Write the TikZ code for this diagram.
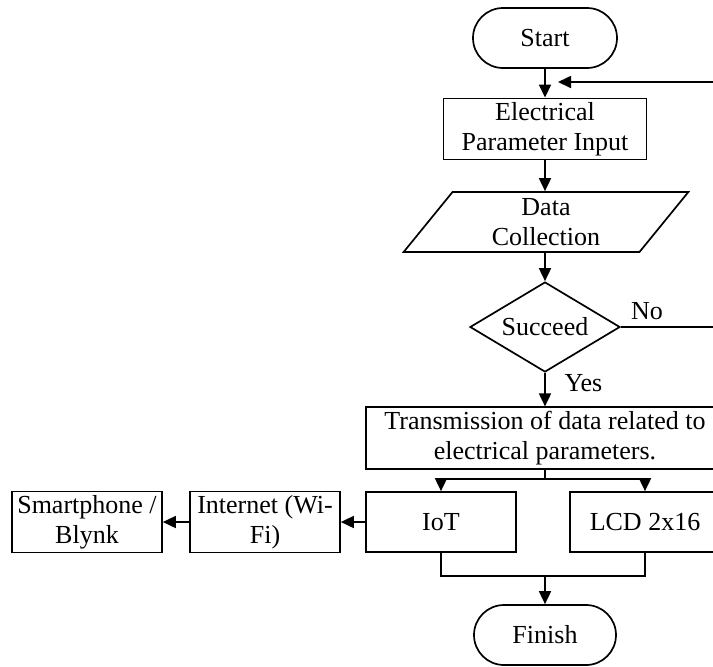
\documentclass[tikz,border=0pt]{standalone}
\usepackage{fontspec}
\setmainfont{Liberation Serif}
\usetikzlibrary{shapes.geometric}
\usetikzlibrary{shapes.misc}
\usetikzlibrary{positioning}
\usetikzlibrary{arrows.meta}
\tikzset{every node/.style={font=\fontsize{13}{14.8}\selectfont, align=center},
         base/.style={draw, line width=0.85pt, inner sep=2pt},
         terminal/.style={base, rounded rectangle, minimum width=76pt, minimum height=30pt},
         process/.style={base, rectangle, minimum width=75pt, minimum height=30pt},
         io/.style={base, trapezium, trapezium left angle=61, trapezium right angle=119,
                    trapezium stretches=true, minimum width=143.5pt, minimum height=30pt},
         decision/.style={base, diamond, aspect=1.67, minimum width=75pt, minimum height=45pt, inner sep=0pt},
         line/.style={line width=0.85pt},
         arrow/.style={line, -{Triangle[length=6.5pt,width=6pt]}},
         }

\begin{document}
\begin{tikzpicture}[x=0.5pt, y=-0.5pt]
\clip (0,0) rectangle (713,666);

% main column
\node[terminal] (start) at (545,38) {Start};
\node[process, minimum width=101.5pt] (input) at (545,129) {Electrical\\Parameter Input};
\node[io] (collect) at (546,222) {Data\\Collection};
\node[decision] (ok) at (545,327) {Succeed};
\node[process, minimum width=179pt] (send) at (545,438) {Transmission of data related to\\electrical parameters.};
\node[process] (iot) at (441,522) {IoT};
\node[process] (lcd) at (645,522) {LCD 2x16};
\node[terminal, minimum width=75pt] (finish) at (545,635) {Finish};

% output side
\node[process] (wifi) at (265,522) {Internet (Wi-\\Fi)};
\node[process] (phone) at (87,522) {Smartphone /\\Blynk};

\coordinate (loop) at (740,82);
\coordinate (back) at (558,82);
\coordinate (split) at (545,479);
\coordinate (merge) at (545,576);

\draw[arrow] (start) -- (input);
\draw[arrow] (input) -- (input.south |- collect.north);
\draw[arrow] (input.south |- collect.south) -- (ok);
\draw[arrow] (ok) -- node[right=6pt, pos=0.3] {Yes} (send);
\draw[arrow] (ok.east) -- node[above, pos=0.22] {No} (ok.east -| loop) -- (loop) -- (back);

\draw[line] (send) -- (split);
\draw[arrow] (split) -| (iot);
\draw[arrow] (split) -| (lcd);
\draw[line] (iot) |- (merge);
\draw[line] (lcd) |- (merge);
\draw[arrow] (merge) -- (finish);

\draw[arrow] (iot) -- (wifi);
\draw[arrow] (wifi) -- (phone);
\end{tikzpicture}
\end{document}
